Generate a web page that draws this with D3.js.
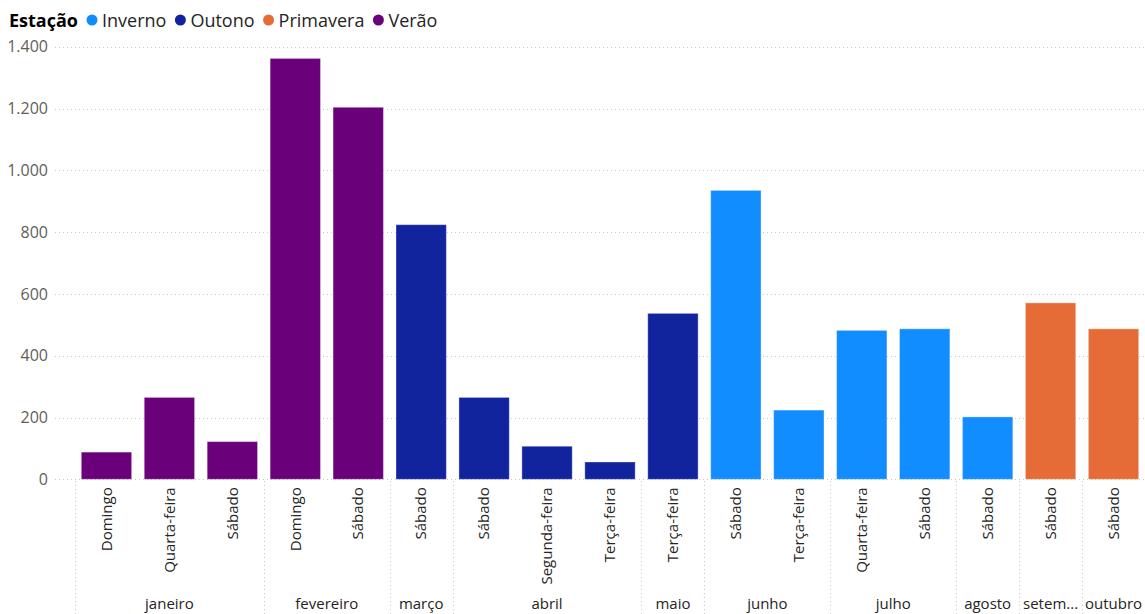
<!DOCTYPE html>
<html>
<head>
<meta charset="utf-8">
<script src="https://cdn.jsdelivr.net/npm/d3@7"></script>
<style>
  body { margin: 0; background: #fff; font-family: "Segoe UI", "Open Sans", sans-serif; }
</style>
</head>
<body>
<svg id="canvas"></svg>
<script>
let width = 1145
let height = 614

// data
let months = ["janeiro", "janeiro", "janeiro", "fevereiro", "fevereiro", "março", "abril", "abril", "abril",
              "maio", "junho", "junho", "julho", "julho", "agosto", "setembro", "outubro"]
let weekdays = ["Domingo", "Quarta-feira", "Sábado", "Domingo", "Sábado", "Sábado", "Sábado", "Segunda-feira", "Terça-feira",
                "Terça-feira", "Sábado", "Terça-feira", "Quarta-feira", "Sábado", "Sábado", "Sábado", "Sábado"]
let seasons = ["Verão", "Verão", "Verão", "Verão", "Verão", "Outono", "Outono", "Outono", "Outono",
               "Outono", "Inverno", "Inverno", "Inverno", "Inverno", "Inverno", "Primavera", "Primavera"]
let values = [88, 265, 122, 1362, 1204, 824, 265, 107, 56, 537, 935, 224, 482, 487, 202, 571, 487]

let legendNames = ["Inverno", "Outono", "Primavera", "Verão"]
let legendColors = ["#118DFF", "#12239E", "#E66C37", "#6B007B"]
let yTicks = [0, 200, 400, 600, 800, 1000, 1200, 1400]

let rows = values.map((v, i) => ({ i: i, month: months[i], day: weekdays[i], season: seasons[i], value: v }))

let canvas = d3.select("#canvas").attr("width", width).attr("height", height)

let xScale = d3.scaleBand()
    .domain(rows.map(d => d.i))
    .range([75, 1145])
    .paddingInner(0.2)
    .paddingOuter(0.1)

let yScale = d3.scaleLinear()
    .domain([0, 1400])
    .range([479.3, 46.7])

let colorScale = d3.scaleOrdinal().domain(legendNames).range(legendColors)

let fmt = d3.formatLocale({ decimal: ",", thousands: ".", grouping: [3], currency: ["R$", ""] }).format(",d")

// gridlines
canvas.append("g")
    .selectAll("line")
    .data(yTicks)
    .enter()
    .append("line")
    .attr("x1", 55)
    .attr("x2", width)
    .attr("y1", d => Math.round(yScale(d)) + 0.5)
    .attr("y2", d => Math.round(yScale(d)) + 0.5)
    .attr("stroke", "#c8c8c8")
    .attr("stroke-width", 1)
    .attr("stroke-dasharray", "1,3")

// y axis
let yAxis = d3.axisLeft(yScale).tickValues(yTicks).tickFormat(fmt).tickSize(0).tickPadding(0)
let yG = canvas.append("g")
    .attr("transform", "translate(48,0)")
    .call(yAxis)
yG.select(".domain").remove()
yG.selectAll("text")
    .attr("fill", "#605E5C")
    .style("font-size", "16px")
    .style("font-family", "\"Segoe UI\", \"Open Sans\", sans-serif")

// bars
canvas.append("g")
    .selectAll("rect")
    .data(rows)
    .enter()
    .append("rect")
    .attr("x", d => xScale(d.i))
    .attr("width", xScale.bandwidth())
    .attr("y", d => yScale(d.value))
    .attr("height", d => yScale(0) - yScale(d.value))
    .attr("fill", d => colorScale(d.season))
    .attr("stroke", "#ffffff")
    .attr("stroke-opacity", 0.35)
    .attr("stroke-width", 1)

// weekday labels (rotated)
let xAxis = d3.axisBottom(xScale).tickFormat(i => weekdays[i]).tickSize(0).tickPadding(0)
let xG = canvas.append("g")
    .attr("transform", "translate(0," + yScale(0) + ")")
    .call(xAxis)
xG.select(".domain").remove()
xG.selectAll("text")
    .attr("transform", "rotate(-90)")
    .attr("x", -8)
    .attr("y", 0)
    .attr("dy", "0.35em")
    .attr("text-anchor", "end")
    .attr("fill", "#252423")
    .style("font-size", "15px")
    .style("font-family", "\"Segoe UI\", \"Open Sans\", sans-serif")

// month groups
let step = xScale.step()
let groups = []
rows.forEach(d => {
    let last = groups[groups.length - 1]
    if (last && last.month === d.month) {
        last.end = d.i
    } else {
        groups.push({ month: d.month, start: d.i, end: d.i })
    }
})

let sepX = groups.map(g => xScale(g.start) - xScale.paddingOuter() * step)
sepX.push(xScale(rows.length - 1) + xScale.bandwidth() + xScale.paddingOuter() * step)

canvas.append("g")
    .selectAll("line")
    .data(sepX)
    .enter()
    .append("line")
    .attr("x1", d => Math.round(d) + 0.5)
    .attr("x2", d => Math.round(d) + 0.5)
    .attr("y1", 481)
    .attr("y2", height)
    .attr("stroke", "#c8c8c8")
    .attr("stroke-dasharray", "1,3")

let monthLabels = canvas.append("g")
    .selectAll("text")
    .data(groups)
    .enter()
    .append("text")
    .attr("x", g => (xScale(g.start) + xScale(g.end) + xScale.bandwidth()) / 2)
    .attr("y", 609)
    .attr("text-anchor", "middle")
    .attr("fill", "#252423")
    .style("font-size", "15px")
    .text(g => g.month)

// truncate the month names that do not fit in their group
monthLabels.each(function (g) {
    let el = d3.select(this)
    let room = (g.end - g.start + 1) * step - 4
    let txt = g.month
    if (this.getComputedTextLength() > room) {
        while (txt.length > 1) {
            txt = txt.slice(0, -1)
            el.text(txt + "...")
            if (this.getComputedTextLength() <= room) break
        }
    }
})

// legend
let legend = canvas.append("g").attr("transform", "translate(9,27)")
let title = legend.append("text")
    .attr("x", 0)
    .attr("y", 0)
    .attr("fill", "#000")
    .style("font-size", "18px")
    .style("font-weight", "bold")
    .text("Estação")

let lx = title.node().getComputedTextLength() + 9
legendNames.forEach((name, i) => {
    legend.append("circle")
        .attr("cx", lx + 5)
        .attr("cy", -7)
        .attr("r", 5.5)
        .attr("fill", legendColors[i])
    let t = legend.append("text")
        .attr("x", lx + 15)
        .attr("y", 0)
        .attr("fill", "#252423")
        .style("font-size", "18px")
        .text(name)
    lx += 15 + t.node().getComputedTextLength() + 9
})
</script>
</body>
</html>
